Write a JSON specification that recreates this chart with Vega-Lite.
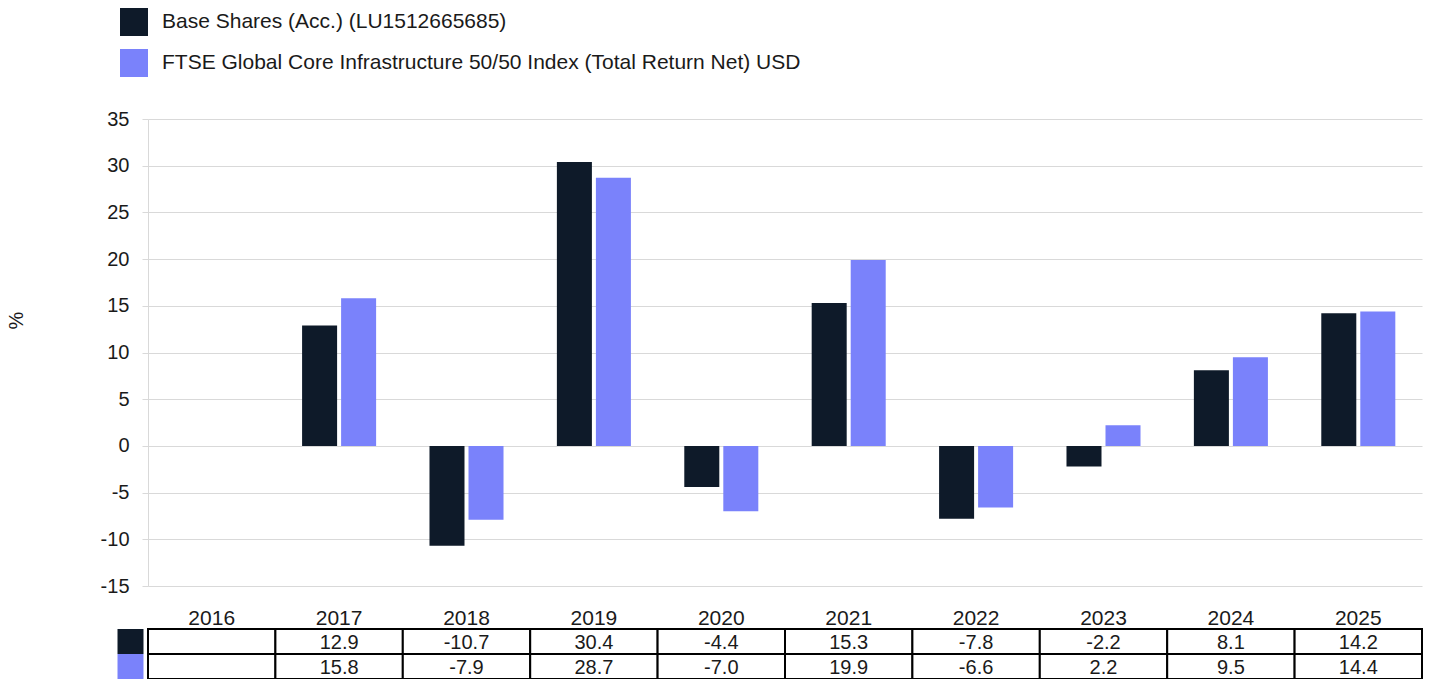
{
  "$schema": "https://vega.github.io/schema/vega-lite/v6.json",
  "padding": {"left": 6, "top": 8, "right": 12, "bottom": 0},
  "spacing": 43,
  "bounds": "flush",
  "config": {
    "font": "Liberation Sans",
    "view": {"stroke": null},
    "locale": {"number": {"decimal": ".", "thousands": ",", "grouping": [3], "currency": ["$", ""], "minus": "-"}},
    "axis": {"labelColor": "#1a1a1a", "titleColor": "#1a1a1a"}
  },
  "datasets": {
    "returns": [
      {"year": "2016", "series": "Base Shares (Acc.) (LU1512665685)", "value": null},
      {"year": "2016", "series": "FTSE Global Core Infrastructure 50/50 Index (Total Return Net) USD", "value": null},
      {"year": "2017", "series": "Base Shares (Acc.) (LU1512665685)", "value": 12.9},
      {"year": "2017", "series": "FTSE Global Core Infrastructure 50/50 Index (Total Return Net) USD", "value": 15.8},
      {"year": "2018", "series": "Base Shares (Acc.) (LU1512665685)", "value": -10.7},
      {"year": "2018", "series": "FTSE Global Core Infrastructure 50/50 Index (Total Return Net) USD", "value": -7.9},
      {"year": "2019", "series": "Base Shares (Acc.) (LU1512665685)", "value": 30.4},
      {"year": "2019", "series": "FTSE Global Core Infrastructure 50/50 Index (Total Return Net) USD", "value": 28.7},
      {"year": "2020", "series": "Base Shares (Acc.) (LU1512665685)", "value": -4.4},
      {"year": "2020", "series": "FTSE Global Core Infrastructure 50/50 Index (Total Return Net) USD", "value": -7.0},
      {"year": "2021", "series": "Base Shares (Acc.) (LU1512665685)", "value": 15.3},
      {"year": "2021", "series": "FTSE Global Core Infrastructure 50/50 Index (Total Return Net) USD", "value": 19.9},
      {"year": "2022", "series": "Base Shares (Acc.) (LU1512665685)", "value": -7.8},
      {"year": "2022", "series": "FTSE Global Core Infrastructure 50/50 Index (Total Return Net) USD", "value": -6.6},
      {"year": "2023", "series": "Base Shares (Acc.) (LU1512665685)", "value": -2.2},
      {"year": "2023", "series": "FTSE Global Core Infrastructure 50/50 Index (Total Return Net) USD", "value": 2.2},
      {"year": "2024", "series": "Base Shares (Acc.) (LU1512665685)", "value": 8.1},
      {"year": "2024", "series": "FTSE Global Core Infrastructure 50/50 Index (Total Return Net) USD", "value": 9.5},
      {"year": "2025", "series": "Base Shares (Acc.) (LU1512665685)", "value": 14.2},
      {"year": "2025", "series": "FTSE Global Core Infrastructure 50/50 Index (Total Return Net) USD", "value": 14.4}
    ]
  },
  "vconcat": [
    {
      "width": 1274,
      "height": 467,
      "data": {"name": "returns"},
      "mark": {"type": "bar"},
      "encoding": {
        "x": {
          "field": "year", "type": "nominal",
          "scale": {"domain": ["2016", "2017", "2018", "2019", "2020", "2021", "2022", "2023", "2024", "2025"], "paddingInner": 0, "paddingOuter": 0},
          "axis": {"title": null, "labelAngle": 0, "labelFontSize": 21, "labelPadding": 21, "domain": false, "ticks": false}
        },
        "xOffset": {
          "field": "series", "type": "nominal",
          "scale": {"paddingInner": 0.1026, "paddingOuter": 0.684}
        },
        "y": {
          "field": "value", "type": "quantitative",
          "scale": {"domain": [-15, 35], "nice": false, "zero": false},
          "axis": {
            "values": [-15, -10, -5, 0, 5, 10, 15, 20, 25, 30, 35],
            "title": "%", "titleFontSize": 20, "titleFontWeight": "normal", "titleX": -122, "titleY": 201,
            "labelFontSize": 20, "labelPadding": 13,
            "gridColor": "#d9d9d9", "domainColor": "#d9d9d9", "tickColor": "#d9d9d9", "tickSize": 6
          }
        },
        "color": {
          "field": "series", "type": "nominal",
          "scale": {
            "domain": ["Base Shares (Acc.) (LU1512665685)", "FTSE Global Core Infrastructure 50/50 Index (Total Return Net) USD"],
            "range": ["#0e1a29", "#7a82fb"]
          },
          "legend": {
            "orient": "none", "legendX": -28, "legendY": -111, "direction": "vertical",
            "title": null, "symbolType": "square", "symbolSize": 784, "symbolStrokeWidth": 0, "symbolOpacity": 1,
            "labelFontSize": 21, "labelColor": "#1a1a1a", "labelOffset": 14, "rowPadding": 13, "padding": 0, "labelLimit": 900
          }
        }
      }
    },
    {
      "width": 1274,
      "height": 50,
      "data": {"name": "returns"},
      "encoding": {
        "x": {"field": "year", "type": "nominal", "scale": {"domain": ["2016", "2017", "2018", "2019", "2020", "2021", "2022", "2023", "2024", "2025"], "paddingInner": 0, "paddingOuter": 0}, "axis": null},
        "y": {
          "field": "series", "type": "nominal",
          "scale": {"domain": ["Base Shares (Acc.) (LU1512665685)", "FTSE Global Core Infrastructure 50/50 Index (Total Return Net) USD"], "paddingInner": 0, "paddingOuter": 0},
          "axis": {
            "title": null, "labels": false, "domain": false, "grid": false, "offset": 5,
            "tickSize": 26, "tickWidth": 25, "tickCap": "butt",
            "tickColor": {"condition": {"test": "datum.value == 'Base Shares (Acc.) (LU1512665685)'", "value": "#0e1a29"}, "value": "#7a82fb"}
          }
        }
      },
      "layer": [
        {"mark": {"type": "rect", "fill": "white", "stroke": "black", "strokeWidth": 2}},
        {
          "transform": [{"filter": "isValid(datum.value)"}],
          "mark": {"type": "text", "fontSize": 20, "color": "#1a1a1a", "dy": 1},
          "encoding": {"text": {"field": "value", "type": "quantitative", "format": ".1f"}}
        }
      ]
    }
  ],
  "resolve": {"scale": {"x": "independent"}}
}
